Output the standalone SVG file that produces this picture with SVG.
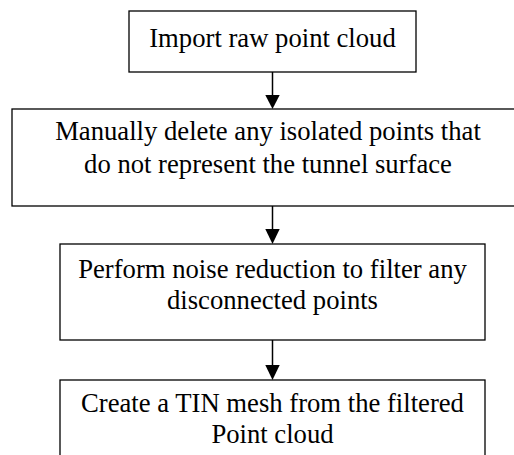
<svg xmlns="http://www.w3.org/2000/svg" width="514" height="455" viewBox="0 0 514 455">
<style>
.box{fill:#fff;stroke:#000;stroke-width:1.3}
.t{font-family:"Liberation Serif","Times New Roman",serif;font-size:26.67px;fill:#000;text-anchor:middle}
.c{stroke:#000;stroke-width:1.5;fill:none}
.h{fill:#000}
</style>
<rect width="514" height="455" fill="#fff"/>
<g id="connectors">
<line class="c" x1="272.5" y1="72" x2="272.5" y2="96"/>
<polygon class="h" points="265.3,95 279.7,95 272.5,109"/>
<line class="c" x1="272.5" y1="206" x2="272.5" y2="230"/>
<polygon class="h" points="265.3,229 279.7,229 272.5,244"/>
<line class="c" x1="272.5" y1="340" x2="272.5" y2="366"/>
<polygon class="h" points="265.3,365 279.7,365 272.5,380"/>
</g>
<g id="n1">
<rect class="box" x="129" y="11" width="287" height="61"/>
<text class="t" x="272.5" y="47">Import raw point cloud</text>
</g>
<g id="n2">
<rect class="box" x="12" y="109" width="510" height="97"/>
<text class="t" x="268" y="140">Manually delete any isolated points that</text>
<text class="t" x="268" y="173">do not represent the tunnel surface</text>
</g>
<g id="n3">
<rect class="box" x="60" y="244" width="425" height="96"/>
<text class="t" x="272.5" y="278">Perform noise reduction to filter any</text>
<text class="t" x="272.5" y="309">disconnected points</text>
</g>
<g id="n4">
<rect class="box" x="60" y="380" width="425" height="90"/>
<text class="t" x="272.5" y="412">Create a TIN mesh from the filtered</text>
<text class="t" x="272.5" y="443">Point cloud</text>
</g>
</svg>
